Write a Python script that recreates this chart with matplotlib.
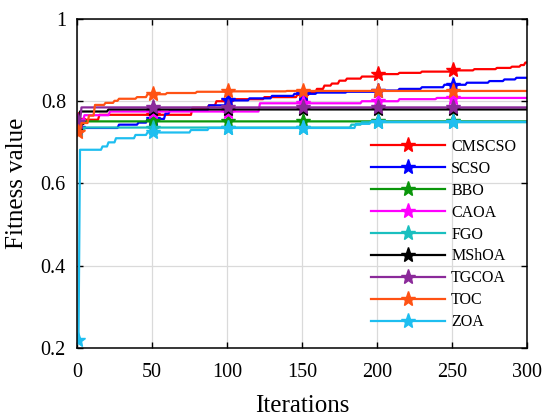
import numpy as np
import matplotlib
matplotlib.use("Agg")
import matplotlib.pyplot as plt

plt.rcParams['font.family'] = ['Liberation Serif', 'DejaVu Serif']

n_iter = 300
names = ["CMSCSO", "SCSO", "BBO", "CAOA", "FGO", "MShOA", "TGCOA", "TOC", "ZOA"]
colors = ["#FF0000", "#0000FF", "#0A960A", "#FF00FF", "#1ABFBF",
          "#000000", "#8B2A9A", "#FF5214", "#1EBEF0"]

# step breakpoints (iteration where a new best value starts)
cmscso_it = [1, 15, 77, 88, 93, 104, 125, 147, 155, 160, 165, 170, 175, 180, 190, 200, 215, 230, 250, 265, 280, 290, 296, 299]
cmscso_v = [0.755, 0.767, 0.784, 0.790, 0.800, 0.805, 0.810, 0.816, 0.822, 0.830, 0.838, 0.843, 0.850, 0.855, 0.860, 0.866, 0.869, 0.872, 0.875, 0.878, 0.881, 0.884, 0.888, 0.894]
scso_it = [1, 28, 41, 47, 59, 62, 88, 100, 115, 130, 145, 160, 180, 200, 215, 230, 245, 260, 275, 285, 293]
scso_v = [0.735, 0.743, 0.748, 0.757, 0.770, 0.778, 0.790, 0.802, 0.807, 0.813, 0.818, 0.821, 0.823, 0.826, 0.830, 0.834, 0.840, 0.845, 0.849, 0.853, 0.857]
bbo_it = [1, 3]
bbo_v = [0.745, 0.751]
caoa_it = [1, 5, 22, 122, 190, 215, 240]
caoa_v = [0.752, 0.766, 0.775, 0.795, 0.800, 0.805, 0.808]
fgo_it = [1, 4, 183, 190]
fgo_v = [0.730, 0.736, 0.743, 0.749]
mshoa_it = [1, 2, 21]
mshoa_v = [0.745, 0.775, 0.780]
tgcoa_it = [1, 3]
tgcoa_v = [0.750, 0.785]
toc_it = [1, 3, 8, 12, 19, 25, 28, 40, 47, 60, 80, 100, 140]
toc_v = [0.726, 0.747, 0.765, 0.791, 0.796, 0.801, 0.806, 0.810, 0.817, 0.820, 0.823, 0.824, 0.825]
zoa_it = [1, 2, 17, 21, 26, 39, 47, 76, 88, 186, 196]
zoa_v = [0.22, 0.682, 0.690, 0.700, 0.710, 0.718, 0.724, 0.730, 0.735, 0.745, 0.750]

series_bp = [(cmscso_it, cmscso_v), (scso_it, scso_v), (bbo_it, bbo_v),
             (caoa_it, caoa_v), (fgo_it, fgo_v), (mshoa_it, mshoa_v),
             (tgcoa_it, tgcoa_v), (toc_it, toc_v), (zoa_it, zoa_v)]

iters = np.arange(1, n_iter + 1)


def expand(bk_it, bk_v):
    out = np.empty(n_iter)
    for k, (s, v) in enumerate(zip(bk_it, bk_v)):
        e = bk_it[k + 1] if k + 1 < len(bk_it) else n_iter + 1
        out[s - 1:e - 1] = v
    return out


fig = plt.figure(figsize=(5.5, 4.19), dpi=100)
ax = fig.add_axes([0.14, 0.1695, 0.818, 0.7852])

for name, col, (bi, bv) in zip(names, colors, series_bp):
    ax.plot(iters, expand(bi, bv), color=col, lw=1.6, marker='*',
            markersize=11, markevery=50, label=name)

ax.set_xlim(0, 300)
ax.set_ylim(0.2, 1.0)
ax.set_xticks([0, 50, 100, 150, 200, 250, 300])
ax.set_yticks([0.2, 0.4, 0.6, 0.8, 1.0])
ax.set_yticklabels(["0.2", "0.4", "0.6", "0.8", "1"])
ax.grid(True, color="#DADADA", lw=0.9)
ax.set_axisbelow(True)
ax.tick_params(direction='in', top=True, right=True, length=4, width=1,
               labelsize=14.5)
ax.tick_params(axis='x', pad=11)
ax.tick_params(axis='y', pad=8)
for s in ax.spines.values():
    s.set_linewidth(1.1)

ax.set_xlabel("Iterations", fontsize=18, labelpad=9)
ax.set_ylabel("Fitness value", fontsize=18, labelpad=9)

ax.legend(loc='upper left', bbox_to_anchor=(0.64, 0.655), frameon=False,
          fontsize=11.5, handlelength=4.6, labelspacing=0.37,
          handletextpad=0.4, borderaxespad=0)

fig.savefig("out.png", dpi=100)
